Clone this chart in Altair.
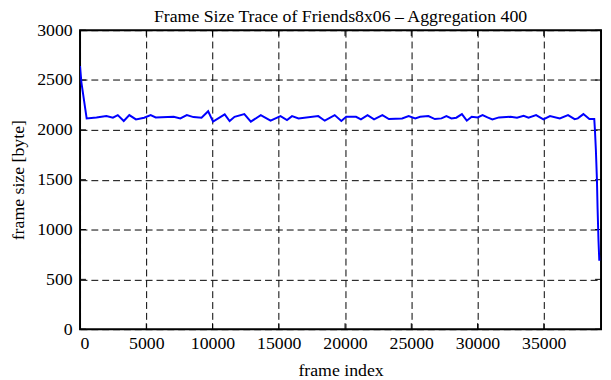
import altair as alt
import pandas as pd

frames = [0, 100, 500, 1240, 1990, 2480, 2850, 3300, 3720, 4220, 4840, 5330, 5710,
          7070, 7570, 8060, 8560, 9170, 9670, 10040, 10920, 11290, 11660, 12400,
          12890, 13640, 14380, 15130, 15620, 16000, 16490, 17980, 18470, 19220,
          19720, 20090, 20830, 21200, 21700, 22190, 22820, 23310, 24310, 24800,
          25300, 25670, 26290, 26780, 27280, 27650, 28030, 28400, 28820, 29190,
          29560, 30010, 30380, 30750, 31120, 31620, 32490, 32980, 33480, 33850,
          34420, 34970, 35470, 36210, 36830, 37330, 37570, 37990, 38440, 38810,
          38860, 38930, 39010, 39060, 39130, 39190]
sizes = [2640, 2480, 2115, 2125, 2138, 2122, 2148, 2089, 2148, 2105, 2122, 2148, 2125,
         2131, 2115, 2148, 2128, 2122, 2187, 2082, 2155, 2089, 2131, 2158,
         2082, 2148, 2092, 2138, 2099, 2138, 2115, 2138, 2092, 2148,
         2089, 2131, 2131, 2105, 2148, 2105, 2148, 2108, 2115, 2138,
         2115, 2131, 2138, 2108, 2115, 2138, 2115, 2122, 2158, 2092,
         2131, 2125, 2148, 2125, 2105, 2125, 2131, 2122, 2141, 2122,
         2148, 2105, 2138, 2115, 2148, 2108, 2115, 2158, 2108, 2108,
         2000, 1803, 1507, 1210, 885, 687]

x_ticks = [0, 5000, 10000, 15000, 20000, 25000, 30000, 35000]
y_ticks = [0, 500, 1000, 1500, 2000, 2500, 3000]

W, H = 528, 303
XMAX = 39320
FONT = "Liberation Serif"

df = pd.DataFrame({"frame": frames, "size": sizes})
xt = pd.DataFrame({"t": x_ticks})
yt = pd.DataFrame({"t": y_ticks})

xscale = alt.Scale(domain=[0, XMAX], nice=False, zero=False)
yscale = alt.Scale(domain=[0, 3000], nice=False)

line = alt.Chart(df).mark_line(color="#0000ff", strokeWidth=2, clip=True).encode(
    x=alt.X("frame:Q", scale=xscale,
            axis=alt.Axis(values=x_ticks, format="d", title="frame index",
                          grid=True, ticks=False, domain=False, labelPadding=6,
                          titlePadding=9)),
    y=alt.Y("size:Q", scale=yscale,
            axis=alt.Axis(values=y_ticks, format="d", title="frame size [byte]",
                          grid=True, ticks=False, domain=False, labelPadding=8,
                          titlePadding=9)),
)

tb = alt.Chart(xt).mark_rule(color="black", strokeWidth=1).encode(
    x=alt.X("t:Q", scale=xscale), y=alt.value(H), y2=alt.value(H - 6))
tt = alt.Chart(xt).mark_rule(color="black", strokeWidth=1).encode(
    x=alt.X("t:Q", scale=xscale), y=alt.value(0), y2=alt.value(6))
tl = alt.Chart(yt).mark_rule(color="black", strokeWidth=1).encode(
    y=alt.Y("t:Q", scale=yscale), x=alt.value(0), x2=alt.value(6))
tr = alt.Chart(yt).mark_rule(color="black", strokeWidth=1).encode(
    y=alt.Y("t:Q", scale=yscale), x=alt.value(W - 6), x2=alt.value(W))

chart = alt.layer(tb, tt, tl, tr, line).properties(
    width=W, height=H,
    title=alt.Title("Frame Size Trace of Friends8x06 \u2013 Aggregation 400",
                    font=FONT, fontSize=18, fontWeight="normal", color="black",
                    offset=1, dy=6),
    autosize=alt.AutoSizeParams(type="none"),
    padding={"left": 73, "top": 20, "right": 2, "bottom": 49},
).configure_view(
    stroke="black", strokeWidth=2
).configure_axis(
    labelFont=FONT, titleFont=FONT, labelFontSize=18, titleFontSize=18,
    labelColor="black", titleColor="black", titleFontWeight="normal",
    gridColor="black", gridDash=[7, 4], gridWidth=1, gridOpacity=1,
)

chart.save("out.html", embed_options={"renderer": "svg", "actions": False})
